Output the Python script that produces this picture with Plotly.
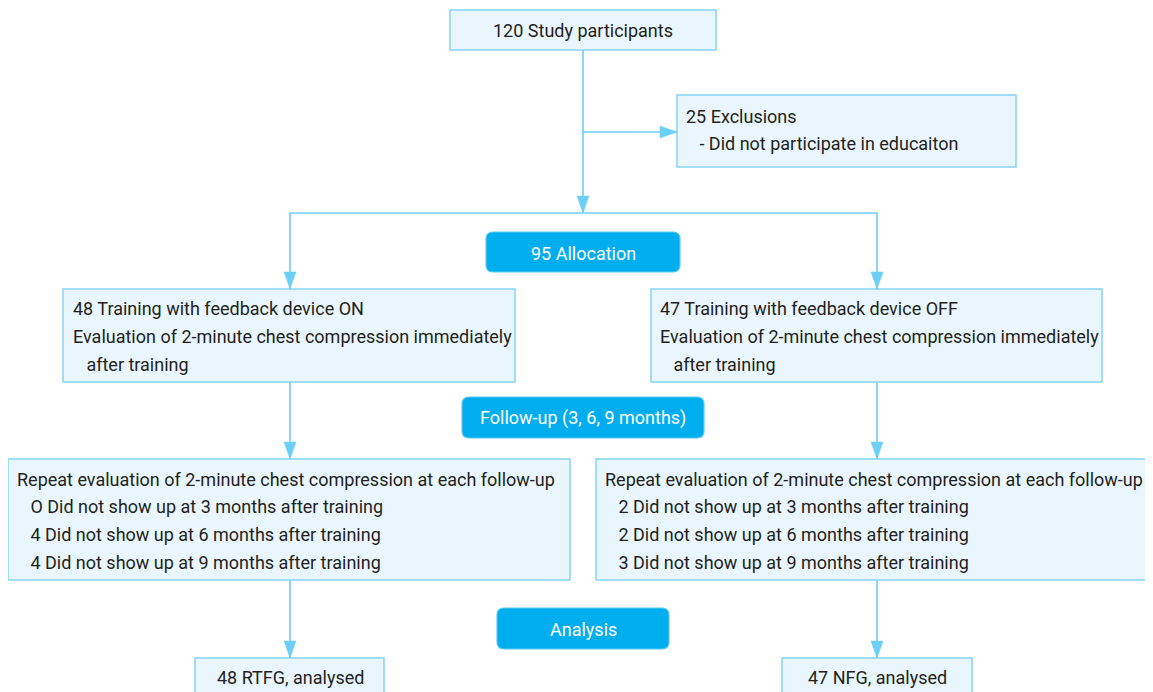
import plotly.graph_objects as go

# ---------------- data: texts of the flow chart ----------------
top_text = ["120 Study participants"]
excl_text = ["25 Exclusions", "  - Did not participate in educaiton"]
alloc_text = "95 Allocation"
left_train = ["48 Training with feedback device ON",
              "Evaluation of 2-minute chest compression immediately",
              "  after training"]
right_train = ["47 Training with feedback device OFF",
               "Evaluation of 2-minute chest compression immediately",
               "  after training"]
follow_text = "Follow-up (3, 6, 9 months)"
left_repeat = ["Repeat evaluation of 2-minute chest compression at each follow-up",
               "  O Did not show up at 3 months after training",
               "  4 Did not show up at 6 months after training",
               "  4 Did not show up at 9 months after training"]
right_repeat = ["Repeat evaluation of 2-minute chest compression at each follow-up",
                "  2 Did not show up at 3 months after training",
                "  2 Did not show up at 6 months after training",
                "  3 Did not show up at 9 months after training"]
analysis_text = "Analysis"
left_final = "48 RTFG, analysed"
right_final = "47 NFG, analysed"

# ---------------- layout / style ----------------
W, H = 1153, 692
OFF = 8  # page body margin
BOX_FILL = "#E9F6FD"
BOX_LINE = "#86D4F4"
LINK = "#6DCFF6"
BLUE = "#00AEEF"
TXT = "#231F20"
FONT = "Roboto"
FS = 18

shapes = []
annots = []


def rect(x0, y0, x1, y1):
    shapes.append(dict(type="rect", x0=x0, y0=y0, x1=x1, y1=y1, xref="x", yref="y",
                       fillcolor=BOX_FILL, line=dict(color=BOX_LINE, width=1.5), layer="below"))


def rrect(x0, y0, x1, y1, r=7):
    p = (f"M{x0+r},{y0} L{x1-r},{y0} Q{x1},{y0} {x1},{y0+r} L{x1},{y1-r} Q{x1},{y1} {x1-r},{y1} "
         f"L{x0+r},{y1} Q{x0},{y1} {x0},{y1-r} L{x0},{y0+r} Q{x0},{y0} {x0+r},{y0} Z")
    shapes.append(dict(type="path", path=p, xref="x", yref="y", fillcolor=BLUE,
                       line=dict(color="#5CC8F2", width=1.2), layer="below"))


def line(pts):
    p = "M" + " L".join(f"{x},{y}" for x, y in pts)
    shapes.append(dict(type="path", path=p, xref="x", yref="y",
                       line=dict(color=LINK, width=1.6), layer="below"))


def head_down(x, y, w=6, l=17):
    p = f"M{x},{y} L{x-w},{y-l} L{x+w},{y-l} Z"
    shapes.append(dict(type="path", path=p, xref="x", yref="y", fillcolor=LINK,
                       line=dict(color=LINK, width=0.5)))


def head_right(x, y, w=6, l=17):
    p = f"M{x},{y} L{x-l},{y-w} L{x-l},{y+w} Z"
    shapes.append(dict(type="path", path=p, xref="x", yref="y", fillcolor=LINK,
                       line=dict(color=LINK, width=0.5)))


def text(x, y, s, anchor="left", color=TXT):
    annots.append(dict(x=x, y=y, xref="x", yref="y", text=s.replace("  ", "&nbsp;&nbsp;&nbsp;"),
                       showarrow=False, xanchor=anchor, yanchor="middle",
                       font=dict(family=FONT, size=FS, color=color)))


# connectors
line([(583, 50), (583, 213)])
head_down(583, 213)
line([(583, 132), (677, 132)])
head_right(677, 132)
line([(290, 289), (290, 213), (877, 213), (877, 289)])
head_down(290, 289)
head_down(877, 289)
line([(290, 382), (290, 459)])
head_down(290, 459)
line([(877, 382), (877, 459)])
head_down(877, 459)
line([(290, 580), (290, 658)])
head_down(290, 658)
line([(877, 580), (877, 658)])
head_down(877, 658)

# boxes
rect(450, 10, 716, 50)
text(583, 30, top_text[0], "center")

rect(677, 95, 1016, 167)
for i, s in enumerate(excl_text):
    text(684, 116 + 27 * i, s)

rrect(486, 232, 680, 272)
text(583, 253, alloc_text, "center", "white")

rect(63, 289, 515, 382)
for i, s in enumerate(left_train):
    text(71, 308 + 28 * i, s)
rect(651, 289, 1102, 382)
for i, s in enumerate(right_train):
    text(658, 308 + 28 * i, s)

rrect(462, 397, 704, 438)
text(583, 418, follow_text, "center", "white")

rect(8, 459, 570, 580)
for i, s in enumerate(left_repeat):
    text(15, 479 + 27.7 * i, s)
rect(596, 459, 1160, 580)
for i, s in enumerate(right_repeat):
    text(603, 479 + 27.7 * i, s)

rrect(497, 608, 669, 649)
text(583, 629, analysis_text, "center", "white")

rect(195, 658, 384, 720)
text(290, 677, left_final, "center")
rect(782, 658, 972, 720)
text(877, 677, right_final, "center")

fig = go.Figure()
fig.update_layout(
    width=W - OFF, height=H - OFF, margin=dict(l=0, r=0, t=0, b=0),
    paper_bgcolor="white", plot_bgcolor="white",
    xaxis=dict(range=[OFF, W], visible=False, fixedrange=True),
    yaxis=dict(range=[H, OFF], visible=False, fixedrange=True),
    shapes=shapes, annotations=annots, showlegend=False,
)
fig.write_html("out.html")
